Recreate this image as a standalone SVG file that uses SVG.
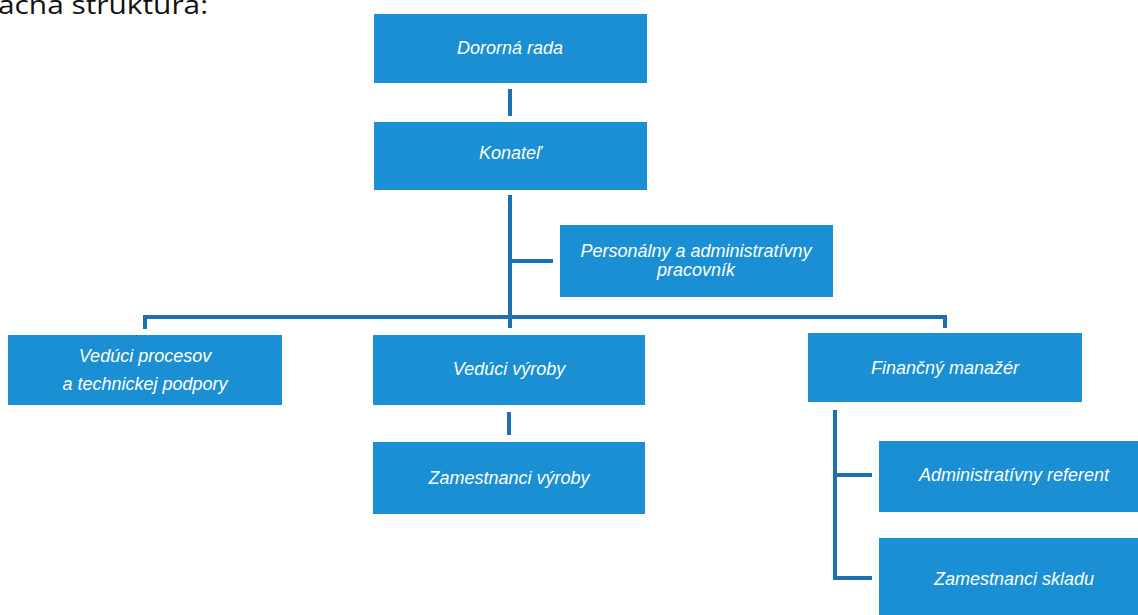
<svg xmlns="http://www.w3.org/2000/svg" width="1138" height="615" viewBox="0 0 1138 615">
<style>
.box{fill:#1a8fd3;}
.lbl{font-family:"Liberation Sans",Arial,sans-serif;font-style:italic;font-size:18px;fill:#ffffff;text-anchor:middle;}
.con{stroke:#1c6fb0;stroke-width:4;fill:none;}
.title{font-family:"Open Sans","Liberation Sans",sans-serif;font-size:26px;fill:#111;}
</style>
<rect width="1138" height="615" fill="#ffffff"/>
<text class="title" x="-2" y="14" textLength="210" lengthAdjust="spacingAndGlyphs">ačná štruktúra:</text>
<g id="connectors">
<line class="con" x1="510" y1="89" x2="510" y2="116" stroke-width="5" stroke="#1d5f96"/>
<line class="con" x1="510" y1="195" x2="510" y2="328"/>
<line class="con" x1="510" y1="261" x2="553" y2="261"/>
<polyline class="con" points="145,329 145,317 945,317 945,328"/>
<line class="con" x1="509" y1="412" x2="509" y2="435" stroke-width="5" stroke="#1d5f96"/>
<polyline class="con" points="835,410 835,578 872,578"/>
<line class="con" x1="835" y1="475" x2="872" y2="475"/>
</g>
<g id="n1"><rect class="box" x="374" y="14" width="273" height="69"/><text class="lbl" x="510" y="54">Dororná rada</text></g>
<g id="n2"><rect class="box" x="374" y="122" width="273" height="68"/><text class="lbl" x="510" y="159">Konateľ</text></g>
<g id="n3"><rect class="box" x="560" y="225" width="273" height="72"/><text class="lbl" x="696" y="257">Personálny a administratívny</text><text class="lbl" x="696" y="276">pracovník</text></g>
<g id="n4"><rect class="box" x="8" y="335" width="274" height="70"/><text class="lbl" x="145" y="362">Vedúci procesov</text><text class="lbl" x="145" y="390">a technickej podpory</text></g>
<g id="n5"><rect class="box" x="373" y="335" width="272" height="70"/><text class="lbl" x="509" y="375">Vedúci výroby</text></g>
<g id="n6"><rect class="box" x="808" y="333" width="274" height="69"/><text class="lbl" x="945" y="374">Finančný manažér</text></g>
<g id="n7"><rect class="box" x="373" y="442" width="272" height="72"/><text class="lbl" x="509" y="484">Zamestnanci výroby</text></g>
<g id="n8"><rect class="box" x="879" y="441" width="270" height="71"/><text class="lbl" x="1014" y="481">Administratívny referent</text></g>
<g id="n9"><rect class="box" x="879" y="538" width="270" height="80"/><text class="lbl" x="1014" y="585">Zamestnanci skladu</text></g>
</svg>
